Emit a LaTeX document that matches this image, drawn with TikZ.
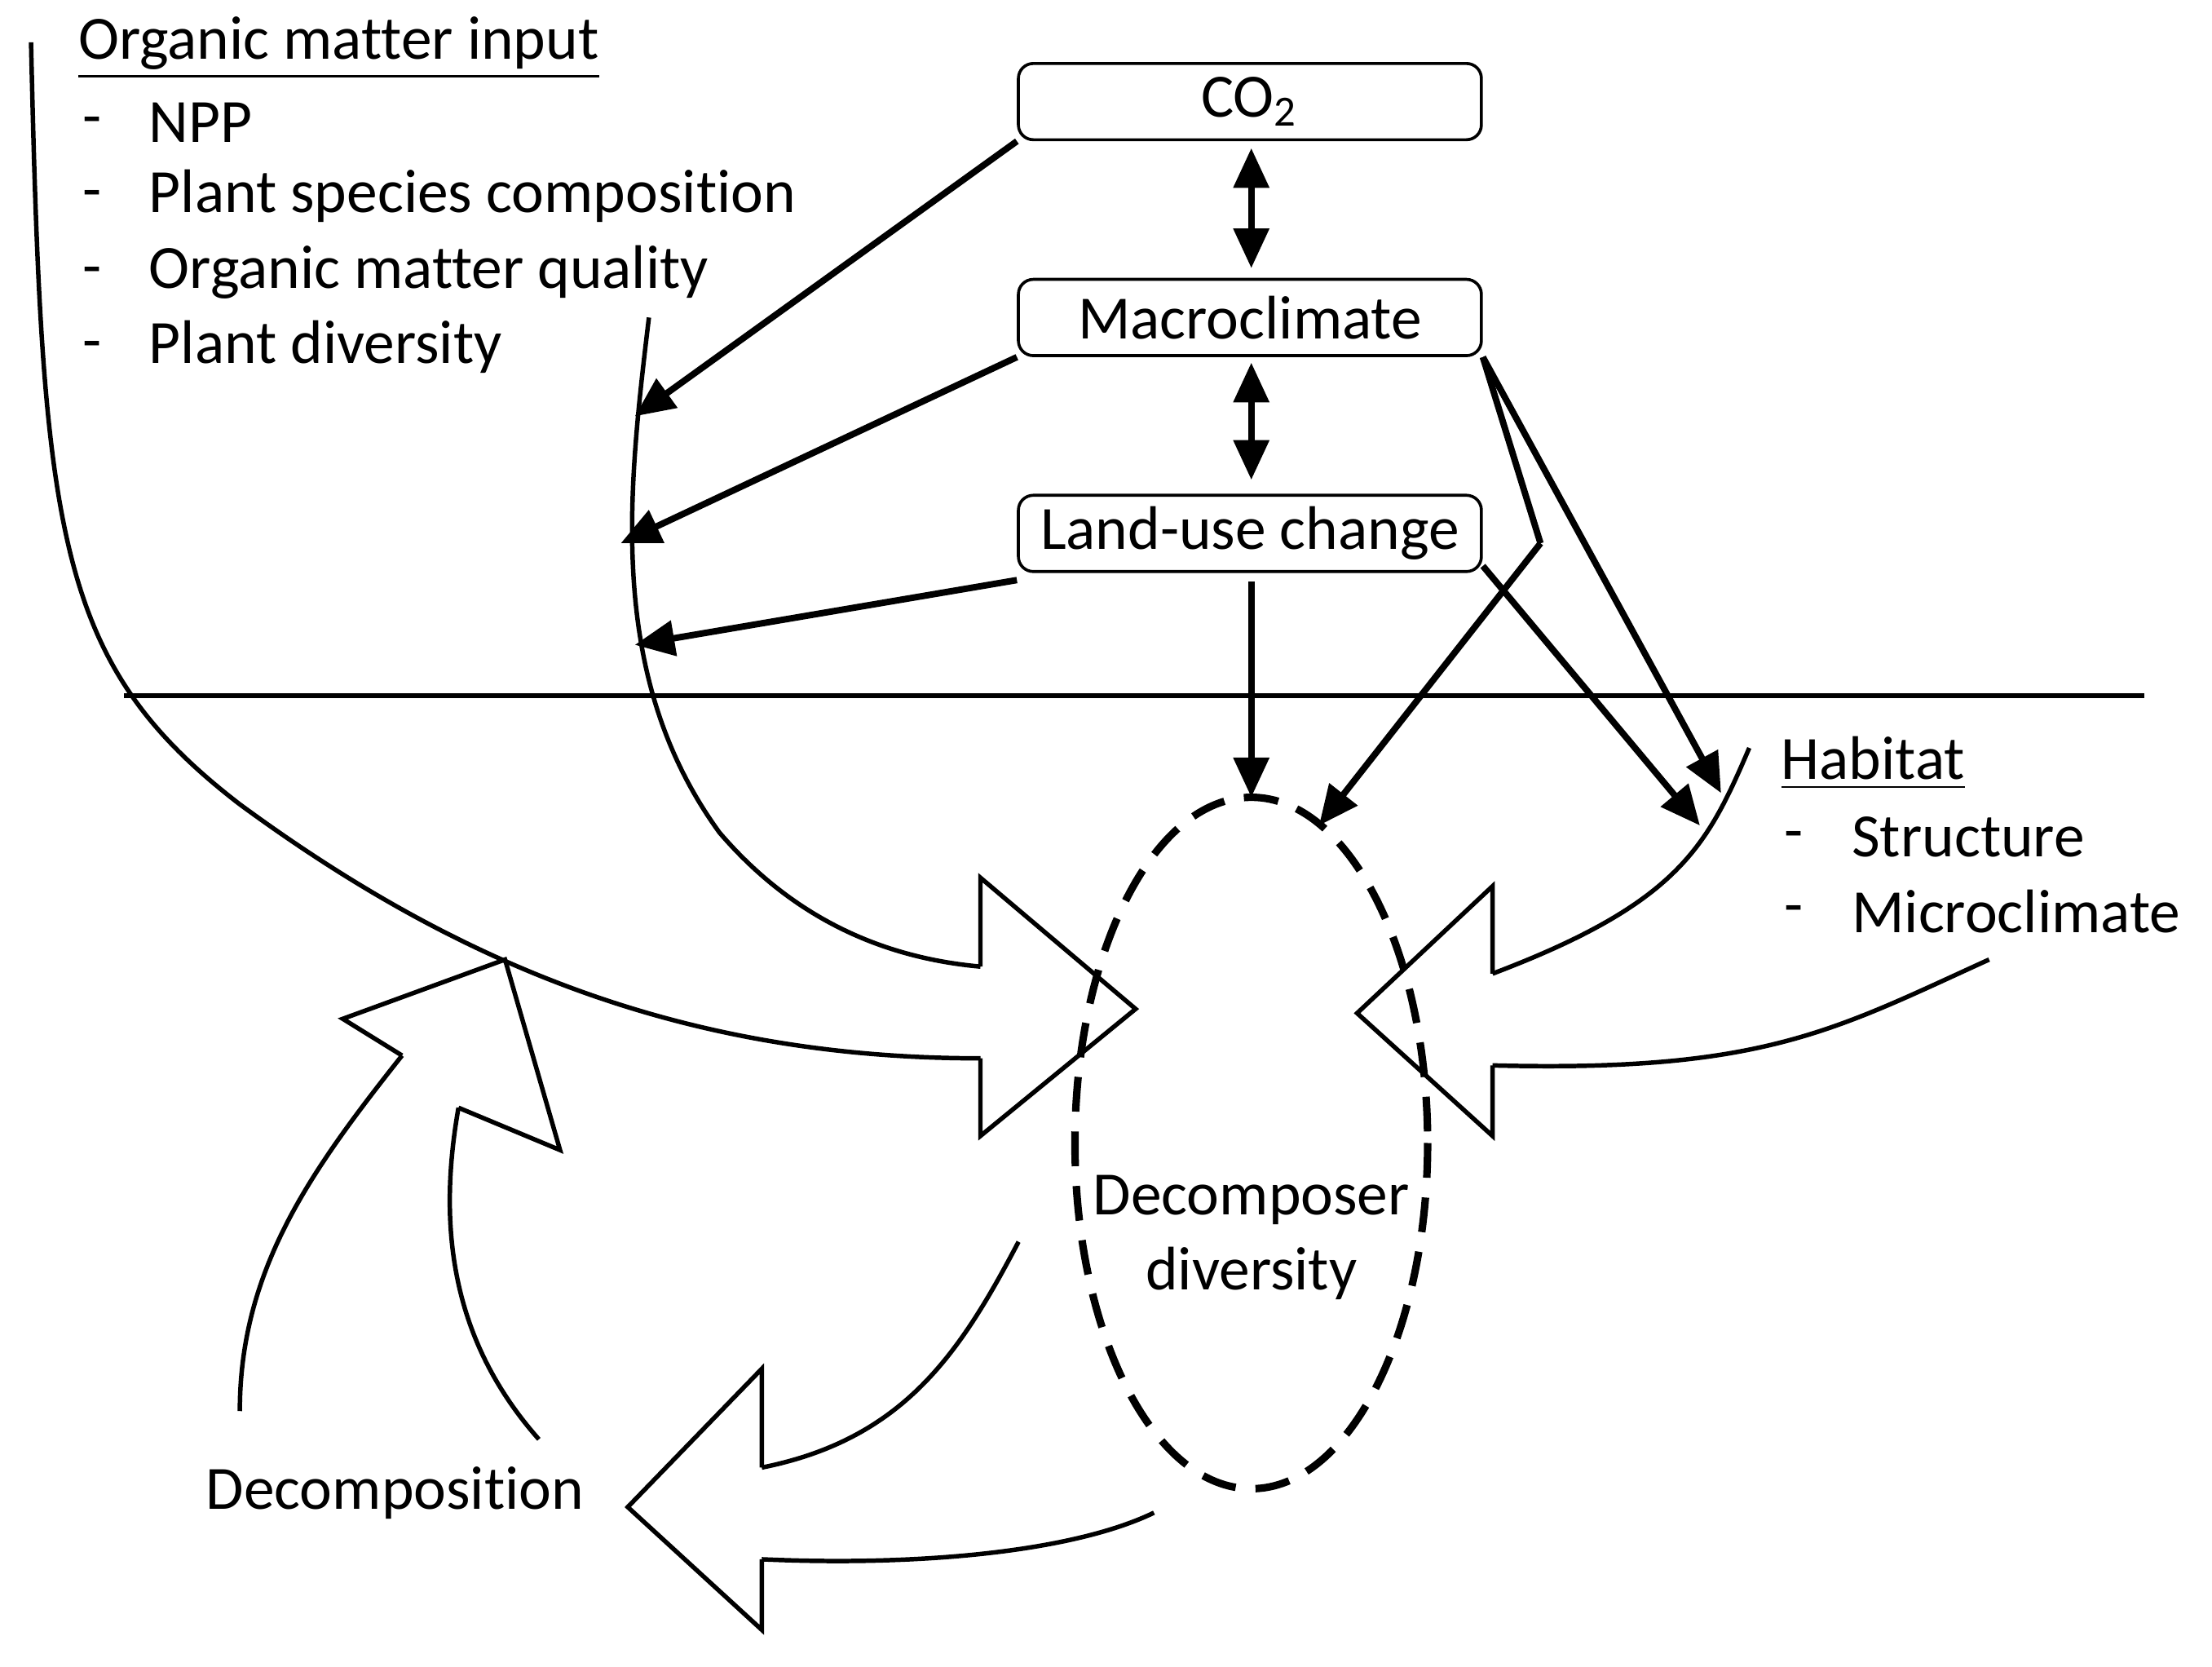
\documentclass[tikz,border=0pt]{standalone}
\usepackage{fontspec}
\setmainfont{Carlito}[Ligatures={NoCommon}]
\usetikzlibrary{arrows.meta}
\begin{document}
\begin{tikzpicture}[x=0.01cm,y=-0.01cm,
  box/.style={draw,line width=0.6pt,rounded corners=3pt,minimum width=3.28cm,minimum height=0.54cm},
  thin/.style={line width=0.9pt},
  arr/.style={line width=1.3pt,-{Triangle[length=8pt,width=7pt]}},
  darr/.style={line width=1.3pt,{Triangle[length=8pt,width=7pt]}-{Triangle[length=8pt,width=7pt]}},
  txt/.style={font=\fontsize{12.4pt}{14pt}\selectfont,inner sep=0pt}]
\useasboundingbox (0,0) rectangle (1568,1181);
\node[box] (co2) at (886,72) {};
\node[txt] at (co2) {CO\textsubscript{2}};
\node[box] (mac) at (886,225) {};
\node[txt] at (mac) {Macroclimate};
\node[box] (lu) at (886,378) {};
\node[txt] at (lu) {Land-use change};
\draw[darr] (887,105) -- (887,190);
\draw[darr] (887,257) -- (887,340);
\draw[thin] (88,493) -- (1520,493);
\draw[line width=1.5pt,dash pattern=on 7pt off 4pt] (887,810) ellipse [x radius=125,y radius=245];
% text
\node[txt,anchor=west] at (55,34) {\underline{Organic matter input}};
\foreach \y/\t in {87/NPP,139/Plant species composition,193/Organic matter quality,246/Plant diversity}{
  \node[txt,anchor=west] at (58,\y+3) {-};
  \node[txt,anchor=west] at (105,\y) {\t};}
\node[txt,anchor=west] at (1262,541) {\underline{Habitat}};
\node[txt,anchor=west] at (1264,596) {-};
\node[txt,anchor=west] at (1312,593) {Structure};
\node[txt,anchor=west] at (1264,649) {-};
\node[txt,anchor=west] at (1312,646) {Microclimate};
\node[txt,align=center,font=\fontsize{12.4pt}{15pt}\selectfont] at (887,877) {Decomposer\\diversity};
\node[txt] at (280,1058) {Decomposition};
% curves and hollow arrows
\draw[thin] (22,30) .. controls (30,380) and (40,470) .. (170,570) .. controls (320,680) and (480,750) .. (695,750);
\draw[thin] (460,225) .. controls (445,350) and (430,480) .. (510,590) .. controls (570,660) and (640,680) .. (695,685);
\draw[thin,line join=miter] (695,685) -- (695,622) -- (805,715) -- (695,805) -- (695,750);
\draw[thin] (1240,530) .. controls (1210,600) and (1190,640) .. (1058,690);
\draw[thin] (1410,680) .. controls (1300,730) and (1250,760) .. (1058,755);
\draw[thin,line join=miter] (1058,690) -- (1058,628) -- (962,718) -- (1058,805) -- (1058,755);
\draw[thin] (722,880) .. controls (680,960) and (640,1020) .. (540,1040);
\draw[thin] (818,1072) .. controls (760,1100) and (650,1110) .. (540,1105);
\draw[thin,line join=miter] (540,1040) -- (540,970) -- (445,1068) -- (540,1155) -- (540,1105);
\draw[thin] (170,1000) .. controls (170,900) and (220,830) .. (285,748);
\draw[thin] (382,1020) .. controls (320,950) and (310,870) .. (325,785);
\draw[thin,line join=miter] (285,748) -- (243,722) -- (358,680) -- (397,815) -- (325,785);
% thick arrows
\draw[arr] (co2.south west) -- (450,295);
\draw[arr] (mac.south west) -- (440,385);
\draw[arr] ([yshift=-0.05cm]lu.south west) -- (450,457);
\draw[arr] (887,412) -- (887,565);
\draw[line width=1.3pt] (mac.south east) -- (1092,385);
\draw[arr] (1092,385) -- (935,585);
\draw[arr] (mac.south east) -- (1220,562);
\draw[arr] ([yshift=0.05cm]lu.south east) -- (1205,585);
\end{tikzpicture}
\end{document}
